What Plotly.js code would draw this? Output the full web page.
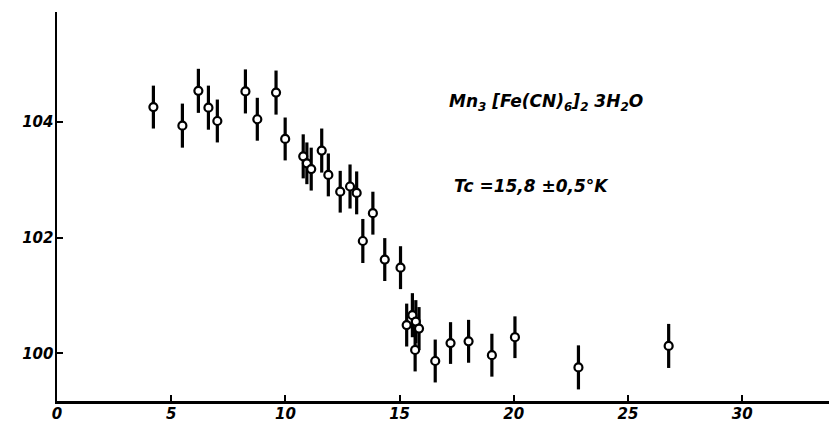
<!DOCTYPE html>
<html>
<head>
<meta charset="utf-8">
<script src="https://cdn.plot.ly/plotly-3.0.1.min.js"></script>
<style>html,body{margin:0;padding:0;background:#fff;}#chart{width:829px;height:424px;}</style>
</head>
<body>
<div id="chart"></div>
<script>
// Temperature (K)
const temperature = [4.22, 5.49, 6.19, 6.63, 7.02, 8.25, 8.77, 9.59, 9.99,
  10.78, 10.94, 11.13, 11.59, 11.88, 12.40, 12.83, 13.12, 13.39, 13.83, 14.35, 15.04,
  15.31, 15.56, 15.71, 15.85, 15.68, 16.56, 17.23, 18.02, 19.04, 20.05, 22.83, 26.78];
// Measured value
const values = [104.25, 103.93, 104.53, 104.24, 104.01, 104.52, 104.04, 104.50, 103.70,
  103.40, 103.28, 103.18, 103.50, 103.08, 102.79, 102.88, 102.77, 101.94, 102.42, 101.62, 101.48,
  100.49, 100.66, 100.55, 100.43, 100.06, 99.87, 100.18, 100.21, 99.97, 100.28, 99.76, 100.13];
// Error (half-length)
const errors = [0.37, 0.38, 0.38, 0.38, 0.37, 0.38, 0.37, 0.38, 0.37,
  0.38, 0.36, 0.37, 0.38, 0.37, 0.36, 0.38, 0.37, 0.38, 0.37, 0.37, 0.37,
  0.37, 0.38, 0.37, 0.37, 0.37, 0.37, 0.36, 0.37, 0.37, 0.36, 0.38, 0.38];
const xTicks = [0, 5, 10, 15, 20, 25, 30];
const yTicks = [100, 102, 104];
const formulaText = 'Mn<sub>3</sub> [Fe(CN)<sub>6</sub>]<sub>2</sub> 3H<sub>2</sub>O';
const tcText = 'Tc =15,8 ±0,5°K';

const tickFont = {family: 'DejaVu Sans', size: 15, color: '#000', weight: 'bold', style: 'italic'};
const noteFont = {family: 'DejaVu Sans', size: 17, color: '#000', weight: 'bold', style: 'italic'};

const trace = {
  x: temperature, y: values, type: 'scatter', mode: 'markers',
  marker: {symbol: 'circle', size: 8, color: '#fff', line: {color: '#000', width: 2.2}},
  error_y: {type: 'data', array: errors, visible: true, color: '#000', thickness: 3.2, width: 0},
  hoverinfo: 'skip'
};

const layout = {
  width: 829, height: 424,
  margin: {l: 57, r: 0, t: 12, b: 23},
  paper_bgcolor: '#fff', plot_bgcolor: '#fff',
  showlegend: false,
  xaxis: {
    range: [0, 33.8], tickvals: xTicks, ticktext: xTicks.map(String),
    showgrid: false, zeroline: false, showline: true, linecolor: '#000', linewidth: 2.5,
    ticks: 'inside', ticklen: 6, tickwidth: 2, tickcolor: '#000',
    tickfont: tickFont, ticklabelstandoff: -3
  },
  yaxis: {
    range: [99.18, 105.89], tickvals: yTicks, ticktext: yTicks.map(String),
    showgrid: false, zeroline: false, showline: true, linecolor: '#000', linewidth: 2.5,
    ticks: 'inside', ticklen: 6, tickwidth: 2, tickcolor: '#000',
    tickfont: tickFont, ticklabelstandoff: -2
  },
  annotations: [
    {text: formulaText, xref: 'paper', yref: 'paper', x: (546 - 57) / 772, y: (401 - 103) / 389,
     xanchor: 'center', yanchor: 'middle', showarrow: false, font: noteFont},
    {text: tcText, xref: 'paper', yref: 'paper', x: (531 - 57) / 772, y: (401 - 186) / 389,
     xanchor: 'center', yanchor: 'middle', showarrow: false, font: noteFont}
  ]
};

Plotly.newPlot('chart', [trace], layout, {displayModeBar: false, staticPlot: true});
</script>
</body>
</html>
